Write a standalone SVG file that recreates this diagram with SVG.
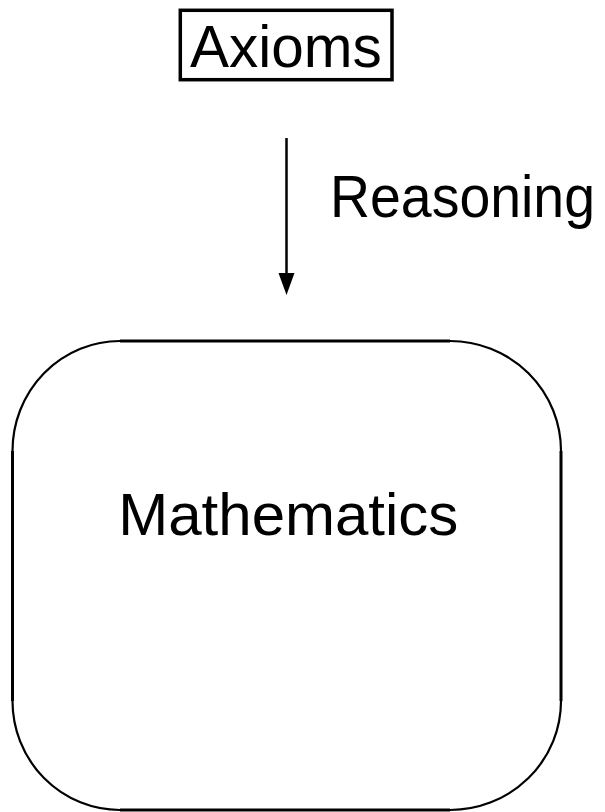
<svg xmlns="http://www.w3.org/2000/svg" width="605" height="812" viewBox="0 0 605 812">
<defs>
<style>
.lbl{font-family:"Liberation Sans",Arial,sans-serif;font-size:60px;fill:#000}
.edge{fill:none;stroke:#000}
</style>
<marker id="ah" viewBox="0 0 16 22" refX="8" refY="22" markerWidth="16" markerHeight="22" markerUnits="userSpaceOnUse" orient="auto-start-reverse">
<path d="M0,0 L16,0 L8,22 Z" fill="#000"/>
</marker>
</defs>
<rect width="605" height="812" fill="#fff"/>
<g id="axioms">
<rect x="180.3" y="10.3" width="211.7" height="69.4" fill="none" stroke="#000" stroke-width="3.5"/>
<text class="lbl" x="190" y="66.7" textLength="191.7" lengthAdjust="spacingAndGlyphs">Axioms</text>
</g>
<g id="connectors">
<line class="edge" x1="286.5" y1="138" x2="286.5" y2="275" stroke-width="2.5"/>
<path d="M278.5,273 L294.5,273 L286.5,295 Z" fill="#000"/>
<text class="lbl" x="330" y="216.7" textLength="265" lengthAdjust="spacingAndGlyphs">Reasoning</text>
</g>
<g id="mathematics">
<path class="edge" stroke-width="3" d="M120,341 L450,341 M561,451 L561,701 M450,810 L120,810 M12.5,701 L12.5,451"/>
<path class="edge" stroke-width="2.2" d="M450,341 A111,110 0 0 1 561,451 M561,701 A111,109 0 0 1 450,810 M120,810 A107.5,109 0 0 1 12.5,701 M12.5,451 A107.5,110 0 0 1 120,341"/>
<text class="lbl" x="118.3" y="535" textLength="340" lengthAdjust="spacingAndGlyphs">Mathematics</text>
</g>
</svg>
